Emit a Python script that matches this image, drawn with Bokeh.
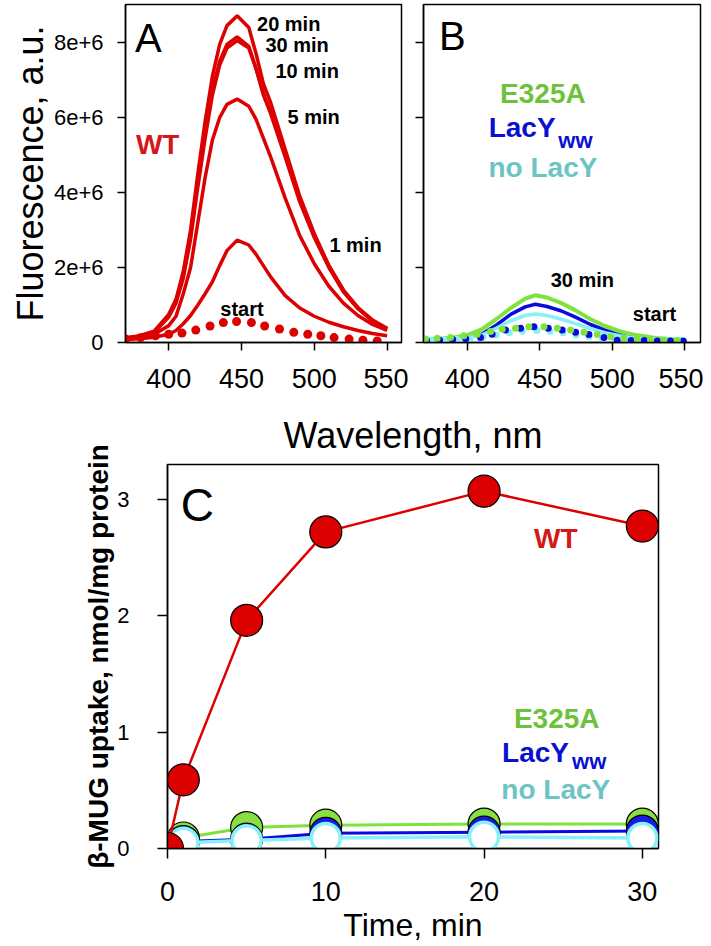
from bokeh.plotting import figure
from bokeh.layouts import column, row
from bokeh.models import FixedTicker, Label, CustomLabelingPolicy
from bokeh.embed import file_html
from bokeh.resources import INLINE

FONT = "Liberation Sans"

# ---------------- Panel A: WT spectra (fluorescence in units of 1e6) ----------------
wl_a = [370, 380, 390, 400, 405, 410, 415, 420, 425, 430, 435, 440, 447, 455, 460,
        465, 470, 480, 490, 500, 510, 520, 530, 540, 550]
wt_20min = [0.12, 0.18, 0.30, 0.75, 1.15, 1.90, 3.00, 4.50, 5.90, 7.10, 7.95, 8.45, 8.71,
            8.40, 7.70, 6.90, 6.40, 5.15, 3.90, 2.90, 2.05, 1.38, 0.92, 0.58, 0.36]
wt_30min = [0.12, 0.17, 0.29, 0.72, 1.10, 1.80, 2.85, 4.30, 5.60, 6.75, 7.50, 7.95, 8.15,
            7.90, 7.30, 6.60, 6.10, 4.95, 3.75, 2.80, 2.00, 1.35, 0.90, 0.57, 0.36]
wt_10min = [0.11, 0.16, 0.27, 0.68, 1.05, 1.72, 2.75, 4.15, 5.45, 6.60, 7.40, 7.85, 8.05,
            7.85, 7.30, 6.65, 6.15, 5.00, 3.80, 2.85, 2.05, 1.40, 0.93, 0.60, 0.38]
wt_5min = [0.10, 0.14, 0.22, 0.45, 0.70, 1.30, 2.00, 3.20, 4.40, 5.40, 6.00, 6.35, 6.49,
           6.30, 5.95, 5.45, 4.95, 3.85, 2.85, 2.10, 1.50, 1.05, 0.72, 0.48, 0.32]
wt_1min = [0.08, 0.10, 0.14, 0.22, 0.32, 0.50, 0.72, 1.00, 1.30, 1.62, 2.05, 2.45, 2.73,
           2.60, 2.35, 2.05, 1.75, 1.25, 0.92, 0.70, 0.54, 0.42, 0.32, 0.24, 0.18]
wl_start_a = [370.5, 380.7, 390.9, 400.0, 409.1, 418.6, 428.4, 437.5, 446.6, 456.8,
              465.9, 476.1, 485.9, 495.5, 504.5, 513.6, 523.9, 533.4, 543.2]
wt_start = [0.09, 0.13, 0.18, 0.22, 0.25, 0.33, 0.44, 0.53, 0.56, 0.53,
            0.44, 0.36, 0.27, 0.22, 0.18, 0.13, 0.09, 0.06, 0.04]

# ---------------- Panel B: mutants ----------------
wl_b = [370, 380, 390, 400, 410, 420, 430, 440, 447, 455, 465, 475, 485, 495, 505, 515, 530, 550]
e325a_30min = [0.08, 0.10, 0.13, 0.20, 0.35, 0.62, 0.92, 1.17, 1.26, 1.20, 1.05, 0.85,
               0.62, 0.44, 0.30, 0.21, 0.12, 0.06]
lacyww_30min = [0.07, 0.08, 0.10, 0.13, 0.22, 0.46, 0.75, 0.95, 1.02, 0.96, 0.84, 0.67,
                0.48, 0.33, 0.22, 0.15, 0.09, 0.05]
nolacy_30min = [0.07, 0.08, 0.09, 0.12, 0.20, 0.38, 0.58, 0.72, 0.76, 0.72, 0.62, 0.50,
                0.37, 0.26, 0.18, 0.13, 0.08, 0.05]
wl_start_e325a = [371.3, 379.3, 388.5, 397.7, 406.9, 416.1, 424.1, 433.3, 442.5, 452.9,
                  462.1, 471.3, 480.5, 489.7, 498.9, 508.0, 517.2, 526.4, 535.6, 544.8]
e325a_start = [0.09, 0.11, 0.13, 0.18, 0.22, 0.29, 0.35, 0.38, 0.42, 0.42,
               0.38, 0.33, 0.27, 0.21, 0.15, 0.12, 0.09, 0.07, 0.06, 0.05]
wl_start_lacyww = [372, 381, 390, 399, 409.2, 417.2, 426.4, 436.8, 446, 455.9,
                   465.5, 474.7, 483.9, 494.3, 503.4, 513, 522, 531, 540, 549]
lacyww_start = [0.05, 0.06, 0.08, 0.10, 0.13, 0.22, 0.33, 0.38, 0.42, 0.38,
                0.33, 0.27, 0.21, 0.13, 0.06, 0.05, 0.05, 0.04, 0.04, 0.04]
wl_start_nolacy = [375, 384, 393, 402, 411, 420, 429, 438, 448, 457,
                   466, 475, 484, 493, 502, 511, 520, 529, 538, 547]
nolacy_start = [0.06, 0.07, 0.08, 0.10, 0.14, 0.20, 0.26, 0.30, 0.32, 0.30,
                0.26, 0.20, 0.15, 0.11, 0.08, 0.07, 0.06, 0.05, 0.05, 0.05]

wl_ticks = [400, 450, 500, 550]
fl_ticks = [0, 2, 4, 6, 8]
fl_tick_labels = ["0", "2e+6", "4e+6", "6e+6", "8e+6"]

# ---------------- Panel C: uptake ----------------
time_min = [0, 1, 5, 10, 20, 30]
uptake_wt = [0, 0.59, 1.96, 2.72, 3.07, 2.77]
uptake_e325a = [0, 0.09, 0.18, 0.20, 0.21, 0.21]
uptake_lacyww = [0, 0.06, 0.08, 0.13, 0.14, 0.15]
uptake_nolacy = [0, 0.05, 0.07, 0.09, 0.10, 0.09]
time_ticks = [0, 10, 20, 30]
uptake_ticks = [0, 1, 2, 3]

RED = "#dd0000"
WT_TEXT = "#d41818"
GREEN_LINE = "#80e23c"
GREEN_TEXT = "#6cc23a"
BLUE = "#0a0ae0"
BLUE_TEXT = "#0a10d0"
CYAN_LINE = "#88f0f8"
CYAN_TEXT = "#6cc4c4"


def style(p, xticks, yticks, xfs, yfs, tick_len, xstand, ystand):
    p.xgrid.visible = False
    p.ygrid.visible = False
    p.outline_line_color = "black"
    p.outline_line_width = 1.5
    p.background_fill_color = "white"
    p.border_fill_color = "white"
    p.xaxis.ticker = FixedTicker(ticks=xticks)
    p.yaxis.ticker = FixedTicker(ticks=yticks)
    for ax in p.axis:
        ax.axis_line_color = "black"
        ax.axis_line_width = 1.5
        ax.major_tick_line_color = "black"
        ax.major_tick_line_width = 1.5
        ax.major_tick_out = tick_len
        ax.major_tick_in = 0
        ax.minor_tick_line_color = None
        ax.major_label_text_font = FONT
        ax.major_label_text_color = "black"
        ax.axis_label_text_font = FONT
        ax.axis_label_text_color = "black"
        ax.axis_label_text_font_style = "normal"
    p.xaxis.major_label_text_font_size = xfs
    p.yaxis.major_label_text_font_size = yfs
    p.xaxis.major_label_standoff = xstand
    p.yaxis.major_label_standoff = ystand


def add_text(p, x, y, text, size, color, bold=True, align="center"):
    p.add_layout(Label(x=x, y=y, text=text, text_font=FONT, text_font_size=f"{size}px",
                       text_color=color, text_font_style="bold" if bold else "normal",
                       text_align=align, text_baseline="alphabetic"))


Y_END = 9.013

# ---------- A ----------
pA = figure(width=408, height=401, x_range=(370.3, 559.9), y_range=(0, Y_END),
            output_backend="svg", toolbar_location=None,
            min_border_left=125, min_border_right=7, min_border_top=4, min_border_bottom=59)
pA.title = None
style(pA, wl_ticks, fl_ticks, "27px", "22px", 8, 18, 14)
pA.yaxis.major_label_overrides = dict(zip(fl_ticks, fl_tick_labels))
pA.yaxis.axis_label = "Fluorescence, a.u."
pA.yaxis.axis_label_text_font_size = "36px"
pA.yaxis.axis_label_standoff = 0

for series in (wt_1min, wt_5min, wt_10min, wt_30min, wt_20min):
    pA.line(wl_a, series, line_color=RED, line_width=3.5)
pA.scatter(wl_start_a, wt_start, size=9, marker="circle", fill_color=RED, line_color=None)

add_text(pA, 376.9, 8.11, "A", 40, "black", bold=False, align="left")
add_text(pA, 482.4, 8.50, "20 min", 20, "black")
add_text(pA, 488.2, 7.92, "30 min", 20, "black")
add_text(pA, 495.1, 7.24, "10 min", 20, "black")
add_text(pA, 499.6, 6.01, "5 min", 20, "black")
add_text(pA, 528.3, 2.59, "1 min", 20, "black")
add_text(pA, 450.3, 0.90, "start", 20, "black")
add_text(pA, 392.4, 5.27, "WT", 28, WT_TEXT)

# ---------- B ----------
pB = figure(width=295, height=401, x_range=(369.9, 560.8), y_range=(0, Y_END),
            output_backend="svg", toolbar_location=None,
            min_border_left=15, min_border_right=3, min_border_top=4, min_border_bottom=59)
pB.title = None
style(pB, wl_ticks, fl_ticks, "27px", "0px", 8, 18, 0)
# ticks only on the left axis of panel B (no tick labels)
pB.yaxis.major_label_policy = CustomLabelingPolicy(code="""
    try {
        const r = indices.clone();
        for (const i of indices) { r.unset(i); }
        return r;
    } catch (e) {
        return indices;
    }
""")

pB.line(wl_b, lacyww_30min, line_color=BLUE, line_width=3.5)
pB.line(wl_b, nolacy_30min, line_color=CYAN_LINE, line_width=3.5)
pB.line(wl_b, e325a_30min, line_color=GREEN_LINE, line_width=4)
pB.scatter(wl_start_nolacy, nolacy_start, size=7, marker="circle", fill_color=CYAN_LINE, line_color=None)
pB.scatter(wl_start_lacyww, lacyww_start, size=7, marker="circle", fill_color=BLUE, line_color=None)
pB.scatter(wl_start_e325a, e325a_start, size=7, marker="circle", fill_color=GREEN_LINE, line_color=None)

add_text(pB, 380.5, 8.16, "B", 40, "black", bold=False, align="left")
add_text(pB, 452.2, 6.63, "E325A", 28, GREEN_TEXT)
add_text(pB, 414.8, 5.74, "LacY", 28, BLUE_TEXT, align="left")
add_text(pB, 462.8, 5.38, "ww", 22, BLUE_TEXT, align="left")
add_text(pB, 452.2, 4.67, "no LacY", 28, CYAN_TEXT)
add_text(pB, 479.4, 1.66, "30 min", 20, "black")
add_text(pB, 529.1, 0.75, "start", 20, "black")

# ---------- C ----------
pC = figure(width=668, height=544, x_range=(0, 31.02), y_range=(0, 3.299),
            output_backend="svg", toolbar_location=None,
            min_border_left=167, min_border_right=10, min_border_top=63, min_border_bottom=97)
style(pC, time_ticks, uptake_ticks, "27px", "22px", 10, 23, 28)
pC.xaxis.axis_label = "Time, min"
pC.xaxis.axis_label_text_font_size = "32px"
pC.xaxis.axis_label_standoff = 3
pC.yaxis.axis_label = "β-MUG uptake, nmol/mg protein"
pC.yaxis.axis_label_text_font_size = "28px"
pC.yaxis.axis_label_text_font_style = "bold"
pC.yaxis.axis_label_standoff = 0
pC.title.text = "Wavelength, nm"
pC.title.align = "center"
pC.title.text_font = FONT
pC.title.text_font_size = "36px"
pC.title.text_font_style = "normal"
pC.title.text_color = "black"
pC.title.standoff = 18

pC.line(time_min, uptake_e325a, line_color=GREEN_LINE, line_width=3)
pC.scatter(time_min, uptake_e325a, size=32, marker="circle", fill_color="#88e040",
           line_color="black", line_width=1.2)
pC.line(time_min, uptake_lacyww, line_color=BLUE, line_width=3)
pC.scatter(time_min, uptake_lacyww, size=32, marker="circle", fill_color="#1a1ae6",
           line_color="black", line_width=1.2)
pC.line(time_min, uptake_nolacy, line_color=CYAN_LINE, line_width=3.5)
pC.scatter(time_min, uptake_nolacy, size=29, marker="circle", fill_color="white",
           line_color=CYAN_LINE, line_width=3.5)
pC.line(time_min, uptake_wt, line_color=RED, line_width=2.5)
pC.scatter(time_min, uptake_wt, size=32, marker="circle", fill_color=RED,
           line_color="black", line_width=1.2)

add_text(pC, 0.84, 2.95, "C", 46, "black", bold=False, align="left")
add_text(pC, 24.53, 2.66, "WT", 28, WT_TEXT)
add_text(pC, 24.59, 1.12, "E325A", 28, GREEN_TEXT)
add_text(pC, 21.14, 0.826, "LacY", 28, BLUE_TEXT, align="left")
add_text(pC, 25.56, 0.747, "ww", 22, BLUE_TEXT, align="left")
add_text(pC, 24.53, 0.508, "no LacY", 28, CYAN_TEXT)

layout = column(row(pA, pB), pC)
open("out.html", "w").write(file_html(layout, INLINE))
